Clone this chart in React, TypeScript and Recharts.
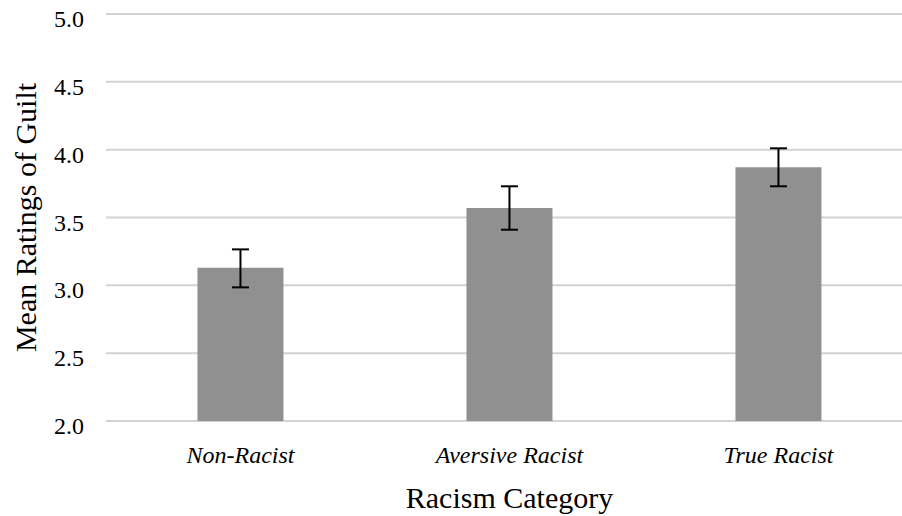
import React from "react";
import { BarChart, Bar, XAxis, YAxis, CartesianGrid, ErrorBar, Label } from "recharts";

const categories = ["Non-Racist", "Aversive Racist", "True Racist"];
const meanGuilt = [3.13, 3.57, 3.87];
const errLower = [0.145, 0.16, 0.14];
const errUpper = [0.135, 0.16, 0.14];
const yTicks = [2.0, 2.5, 3.0, 3.5, 4.0, 4.5, 5.0];

const data = categories.map((c, i) => ({
  category: c,
  mean: meanGuilt[i],
  err: [errLower[i], errUpper[i]],
}));

const FONT = "Liberation Serif";

const YTick = (props: any) => {
  const { x, y, payload } = props;
  return (
    <g>
      <text x={x} y={y + 13} textAnchor="end" fontFamily={FONT} fontSize={24} fill="#000">
        {Number(payload.value).toFixed(1)}
      </text>
    </g>
  );
};

const XTick = (props: any) => {
  const { x, y, payload } = props;
  return (
    <g>
      <text x={x} y={y + 42} textAnchor="middle" fontFamily={FONT} fontSize={24} fontStyle="italic" fill="#000">
        {payload.value}
      </text>
    </g>
  );
};

const YTitle = (props: any) => {
  const { viewBox } = props;
  const cx = viewBox.x + 25;
  const cy = viewBox.y + viewBox.height / 2;
  return (
    <text
      x={cx}
      y={cy}
      transform={`rotate(-90, ${cx}, ${cy})`}
      textAnchor="middle"
      dominantBaseline="central"
      fontFamily={FONT}
      fontSize={30}
      fill="#000"
    >
      Mean Ratings of Guilt
    </text>
  );
};

const XTitle = (props: any) => {
  const { viewBox } = props;
  const cx = viewBox.x + 403.5;
  const y = viewBox.y + 87;
  return (
    <text x={cx} y={y} textAnchor="middle" fontFamily={FONT} fontSize={30} fill="#000">
      Racism Category
    </text>
  );
};

export default function App() {
  return (
    <div
      style={{
        position: "absolute",
        left: 0,
        top: 0,
        width: 902,
        height: 516,
        overflow: "hidden",
        background: "#fff",
      }}
    >
      <BarChart
        width={913}
        height={516}
        data={data}
        margin={{ top: 14, right: 0, bottom: 0, left: 0 }}
        barCategoryGap="34%"
      >
        <CartesianGrid vertical={false} stroke="#d3d3d3" strokeWidth={2} />
        <XAxis
          dataKey="category"
          height={95}
          axisLine={false}
          tickLine={false}
          tickSize={0}
          tickMargin={0}
          tick={XTick}
          interval={0}
        >
          <Label content={<XTitle />} />
        </XAxis>
        <YAxis
          width={106}
          domain={[2, 5]}
          ticks={yTicks}
          axisLine={false}
          tickLine={false}
          tickSize={0}
          tickMargin={22}
          tick={YTick}
          interval={0}
        >
          <Label content={<YTitle />} />
        </YAxis>
        <Bar dataKey="mean" fill="#909090" isAnimationActive={false}>
          <ErrorBar dataKey="err" width={8.5} stroke="#000" strokeWidth={2} />
        </Bar>
      </BarChart>
    </div>
  );
}
